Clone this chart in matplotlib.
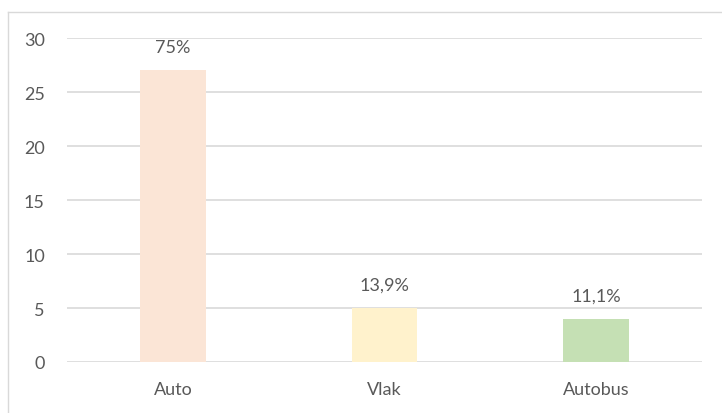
import matplotlib.pyplot as plt
from matplotlib.lines import Line2D

categories = ["Auto", "Vlak", "Autobus"]
values = [27, 5, 4]
labels = ["75%", "13,9%", "11,1%"]
colors = ["#FBE5D6", "#FFF2CC", "#C5E0B4"]

W, H = 722, 414
fig = plt.figure(figsize=(W / 100, H / 100), dpi=100)
plt.rcParams["font.family"] = ["Lato", "DejaVu Sans"]

# axes in pixel coordinates: x 67..702, y 39..363
ax = fig.add_axes([67 / W, 1 - 363 / H, (702 - 67) / W, (363 - 39) / H])

x = range(len(categories))
bars = ax.bar(x, values, width=0.31, color=colors, zorder=3)
for b, lab in zip(bars, labels):
    ax.annotate(lab, (b.get_x() + b.get_width() / 2, b.get_height()),
                xytext=(0, 11), textcoords="offset points",
                ha="center", va="bottom", fontsize=13, color="#595959")

ax.set_xlim(-0.5, 2.5)
ax.set_ylim(0, 30)
ax.set_yticks(range(0, 31, 5))
ax.set_xticks(list(x))
ax.set_xticklabels(categories)
ax.tick_params(axis="both", length=0, labelsize=13, colors="#595959")
ax.tick_params(axis="y", pad=16)
ax.tick_params(axis="x", pad=14)
ax.grid(axis="y", color="#D9D9D9", linewidth=1.2, zorder=0)
for s in ax.spines.values():
    s.set_visible(False)

# chart border (top and left visible)
fig.add_artist(Line2D([8 / W, 1], [1 - 13 / H, 1 - 13 / H], color="#D9D9D9", lw=1))
fig.add_artist(Line2D([8 / W, 8 / W], [0, 1 - 13 / H], color="#D9D9D9", lw=1))

fig.savefig("out.png", dpi=100)
